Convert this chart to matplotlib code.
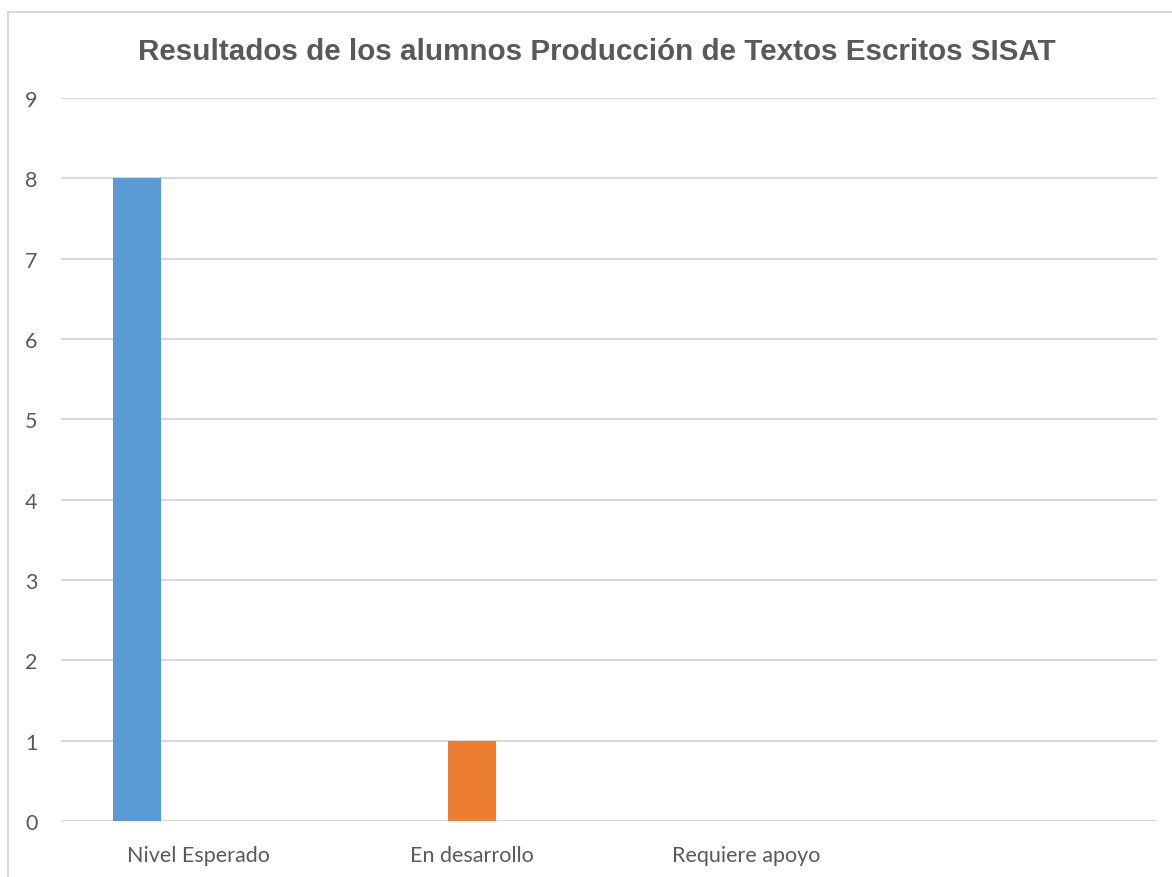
import numpy as np
import matplotlib
matplotlib.use('Agg')
import matplotlib.pyplot as plt
from matplotlib.patches import Rectangle

plt.rcParams['font.family'] = ['Lato', 'DejaVu Sans']

categorias = ['Nivel Esperado', 'En desarrollo', 'Requiere apoyo', '']
serie_1 = [8, 0, 0, 0]
serie_2 = [0, 1, 0, 0]
serie_3 = [0, 0, 0, 0]
colores = ['#5B9BD5', '#ED7D31', '#A5A5A5']

W, H = 1172, 878
fig = plt.figure(figsize=(W / 100, H / 100), dpi=100)

# marco del gráfico (solo se ven los bordes superior e izquierdo)
fig.patches.append(Rectangle((8 / W, -0.1), 1.2, (H - 12.5) / H + 0.1,
                             transform=fig.transFigure, fill=False,
                             edgecolor='#D9D9D9', linewidth=1.5))

ax = fig.add_axes([61 / W, (H - 822) / H, (1157 - 61) / W, (822 - 99) / H])

x = np.arange(len(categorias))
ancho = 0.175
paso = 0.223
for i, (vals, col) in enumerate(zip([serie_1, serie_2, serie_3], colores)):
    ax.bar(x + (i - 1) * paso, vals, width=ancho, color=col, edgecolor='none', zorder=3)

ax.set_xlim(-0.5, len(categorias) - 0.5)
ax.set_ylim(0, 9)
ax.set_yticks(range(0, 10))
ax.set_xticks(x)
ax.set_xticklabels(categorias)
ax.grid(axis='y', color='#D9D9D9', linewidth=1.5, zorder=0)
for s in ax.spines.values():
    s.set_visible(False)
ax.tick_params(length=0, labelsize=15.5, labelcolor='#595959')
ax.tick_params(axis='y', pad=17)
ax.tick_params(axis='x', pad=17)

fig.text(597 / W, 1 - 52 / H, 'Resultados de los alumnos Producción de Textos Escritos SISAT',
         ha='center', va='center', fontsize=21.3, fontweight='bold',
         color='#595959', family=['Liberation Sans', 'DejaVu Sans'])

plt.savefig('out.png', dpi=100)
